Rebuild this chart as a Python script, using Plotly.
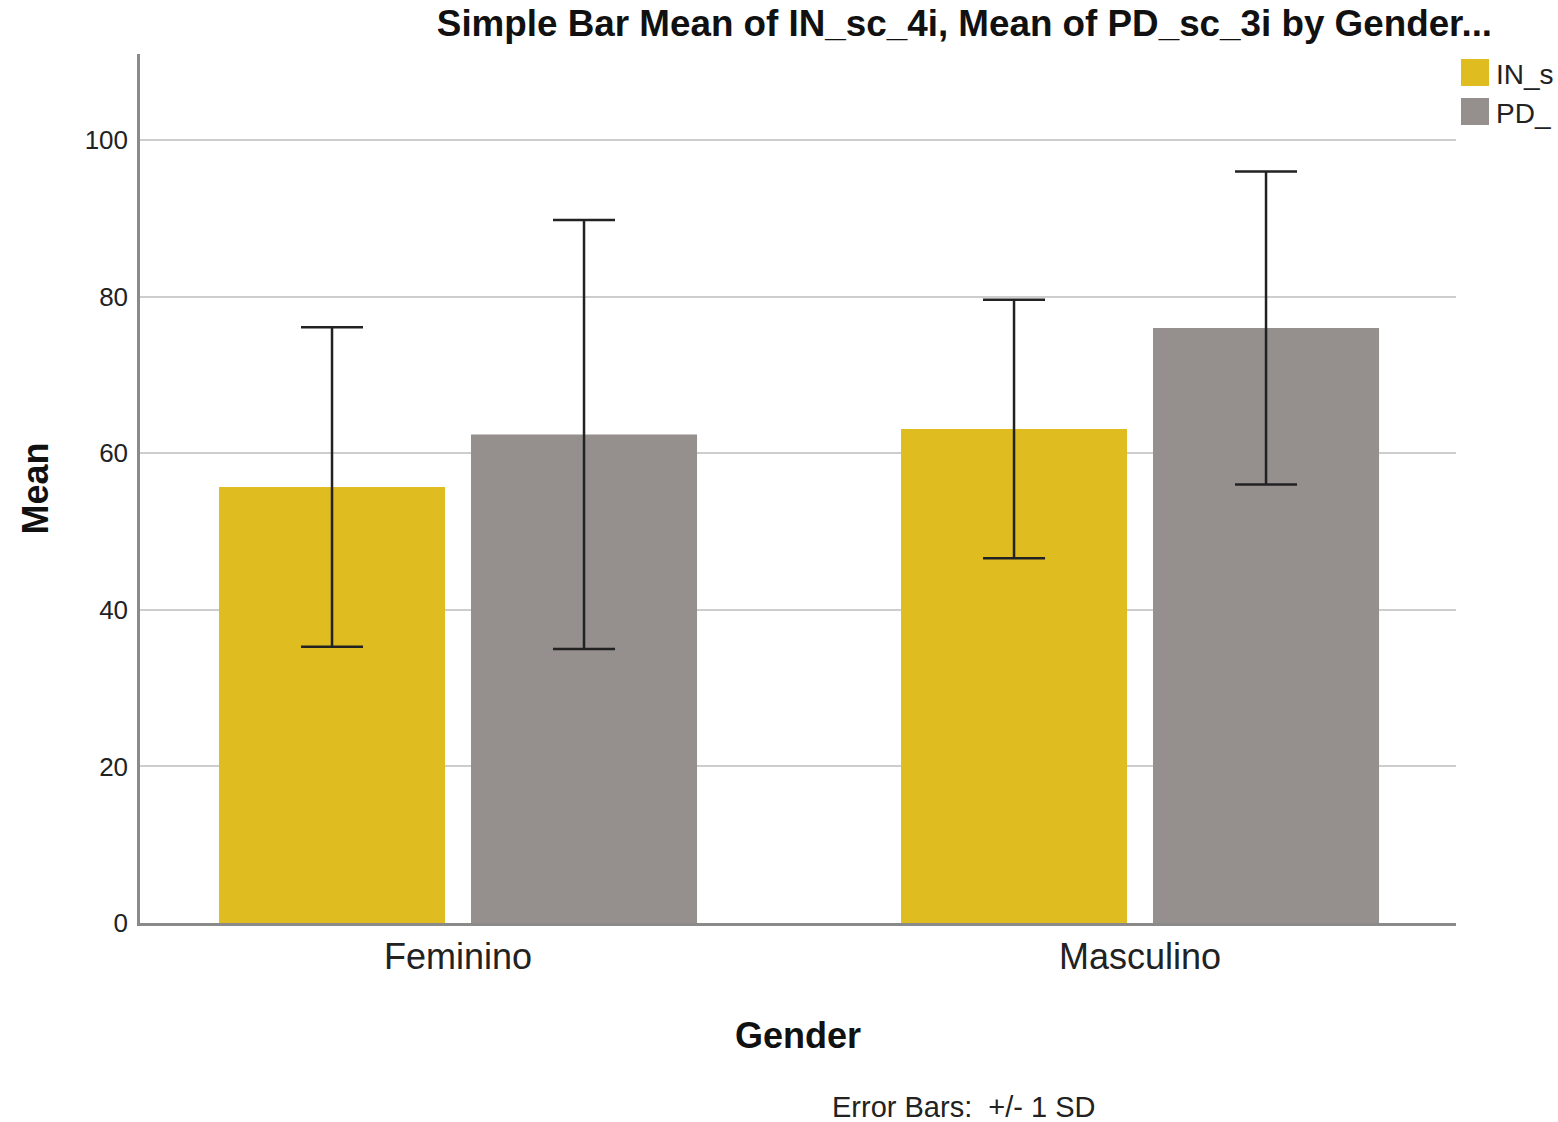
import plotly.graph_objects as go

categories = ["Feminino", "Masculino"]
series_names = ["IN_sc_4i", "PD_sc_3i"]
legend_labels = ["IN_s", "PD_"]  # as truncated in the reference legend
in_means = [55.7, 63.1]
in_sd = [20.4, 16.5]
pd_means = [62.4, 76.0]
pd_sd = [27.4, 20.0]
colors = ["#DFBC1F", "#958F8E"]
y_ticks = [0, 20, 40, 60, 80, 100]

FONT = "Liberation Sans, Arial, sans-serif"

fig = go.Figure()
for name, means, sds, col in [
    (series_names[0], in_means, in_sd, colors[0]),
    (series_names[1], pd_means, pd_sd, colors[1]),
]:
    fig.add_trace(go.Bar(
        x=categories, y=means, name=name,
        marker=dict(color=col, line=dict(width=0)),
        error_y=dict(type="data", array=sds, visible=True,
                     color="#222222", thickness=2.5, width=31),
        showlegend=False,
    ))

fig.update_layout(
    width=1558, height=1122,
    margin=dict(l=140, r=102, t=54, b=199, autoexpand=False),
    paper_bgcolor="white", plot_bgcolor="white",
    barmode="group", bargap=0.261, bargroupgap=0.103,
    font=dict(family=FONT, color="#222222"),
    title=dict(
        text="<b>Simple Bar Mean of IN_sc_4i, Mean of PD_sc_3i by Gender...</b>",
        x=0.6265, xref="paper", xanchor="center",
        y=1 - 23 / 1122, yref="container", yanchor="middle",
        font=dict(family=FONT, size=36.8, color="#111111"),
    ),
    xaxis=dict(
        range=[-0.4663, 1.4633],
        showline=True, linecolor="#8a8a8a", linewidth=2.5,
        showgrid=False, zeroline=False, ticks="",
        tickfont=dict(family=FONT, size=36, color="#222222"),
    ),
    yaxis=dict(
        range=[0, 111],
        tickvals=y_ticks,
        showline=True, linecolor="#8a8a8a", linewidth=2.5,
        showgrid=True, gridcolor="#cdcdcd", gridwidth=2,
        zeroline=False, ticks="",
        ticklabelstandoff=4,
        tickfont=dict(family=FONT, size=26, color="#222222"),
    ),
)

# axis titles and footnote
fig.add_annotation(text="<b>Gender</b>", xref="paper", yref="paper",
                   x=0.5, y=0, xanchor="center", yanchor="middle", yshift=-112,
                   showarrow=False, font=dict(family=FONT, size=36, color="#111111"))
fig.add_annotation(text="<b>Mean</b>", xref="paper", yref="paper",
                   x=0, y=0.5, xanchor="center", yanchor="middle", xshift=-105,
                   textangle=-90,
                   showarrow=False, font=dict(family=FONT, size=36, color="#111111"))
fig.add_annotation(text="Error Bars:  +/- 1 SD", xref="paper", yref="paper",
                   x=0.6254, y=0, xanchor="center", yanchor="middle", yshift=-184,
                   showarrow=False, font=dict(family=FONT, size=29, color="#222222"))

# legend
for i, (label, col) in enumerate(zip(legend_labels, colors)):
    top = -5 - i * 39
    fig.add_shape(type="rect", xref="paper", yref="paper",
                  xsizemode="pixel", ysizemode="pixel",
                  xanchor=1, yanchor=1,
                  x0=5, x1=33, y0=top, y1=top - 27,
                  fillcolor=col, line=dict(width=0))
    fig.add_annotation(text=label, xref="paper", yref="paper",
                       x=1, y=1, xanchor="left", yanchor="middle",
                       xshift=38, yshift=top - 15,
                       showarrow=False, font=dict(family=FONT, size=28, color="#222222"))

fig.write_html("out.html")
